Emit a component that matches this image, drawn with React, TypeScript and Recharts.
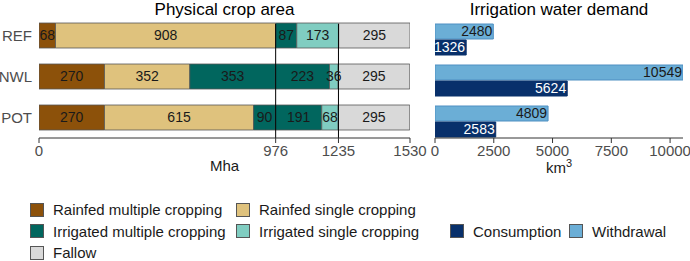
import { BarChart, Bar, XAxis, YAxis, LabelList, ReferenceLine, Label } from 'recharts';

const scenarios = ['REF', 'NWL', 'POT'];

// physical crop area, Mha
const rainfedMultiple = [68, 270, 270];
const rainfedSingle = [908, 352, 615];
const irrigatedMultipleA = [87, 353, 90];
const irrigatedMultipleB = [0, 223, 191];
const irrigatedSingle = [173, 36, 68];
const fallow = [295, 295, 295];

// irrigation water demand, km3
const withdrawal = [2480, 10549, 4809];
const consumption = [1326, 5624, 2583];

const areaTicks = [0, 976, 1235, 1530];
const areaMarks = [976, 1235];
const waterTicks = [0, 2500, 5000, 7500, 10000];

const AREA_SERIES = [
  { key: 'rm', name: 'Rainfed multiple cropping', color: '#8c510a', legend: true },
  { key: 'rs', name: 'Rainfed single cropping', color: '#dfc27d', legend: true },
  { key: 'imA', name: 'Irrigated multiple cropping', color: '#01665e', legend: true },
  { key: 'imB', name: 'Irrigated multiple cropping', color: '#01665e', legend: false },
  { key: 'is', name: 'Irrigated single cropping', color: '#80cdc1', legend: true },
  { key: 'fa', name: 'Fallow', color: '#d9d9d9', legend: true },
];

const WATER_SERIES = [
  { key: 'withdrawal', name: 'Withdrawal', color: '#6baed6', stroke: '#4f8fc2', text: '#1a1a1a' },
  { key: 'consumption', name: 'Consumption', color: '#08306b', stroke: '#08306b', text: '#ffffff' },
];

const areaData = scenarios.map((scenario, i) => ({
  scenario,
  rm: rainfedMultiple[i],
  rs: rainfedSingle[i],
  imA: irrigatedMultipleA[i],
  imB: irrigatedMultipleB[i],
  is: irrigatedSingle[i],
  fa: fallow[i],
}));

const waterData = scenarios.map((scenario, i) => ({
  scenario,
  withdrawal: withdrawal[i],
  consumption: consumption[i],
}));

const FONT = "'Liberation Sans', Arial, sans-serif";
const TICK = { fill: '#4d4d4d', fontSize: 15 };

function hideZero(v: any) {
  return v === 0 ? '' : v;
}

function KmLabel(props: any) {
  const vb = props.viewBox;
  return (
    <text x={vb.x + vb.width / 2} y={vb.y + vb.height - 2} textAnchor="middle" fill="#1a1a1a" fontSize={15}>
      km<tspan dy={-6} fontSize={11}>3</tspan>
    </text>
  );
}

function Swatch({ x, y, color, label }: { x: number; y: number; color: string; label: string }) {
  return (
    <div style={{ position: 'absolute', left: x, top: y, display: 'flex', alignItems: 'center', height: 17 }}>
      <div style={{ width: 14, height: 14, boxSizing: 'border-box', background: color, border: '1px solid #555' }} />
      <span style={{ marginLeft: 9, fontSize: 15, lineHeight: '17px', color: '#1a1a1a', whiteSpace: 'nowrap' }}>{label}</span>
    </div>
  );
}

export default function App() {
  const areaLegend = AREA_SERIES.filter((s) => s.legend);
  const legendPos = [
    { x: 30, y: 201 },
    { x: 236, y: 201 },
    { x: 30, y: 222.5 },
    { x: 236, y: 222.5 },
    { x: 30, y: 244 },
  ];
  const waterLegend = [WATER_SERIES[1], WATER_SERIES[0]];
  const waterPos = [
    { x: 450, y: 222.5 },
    { x: 569, y: 222.5 },
  ];

  return (
    <div style={{ position: 'absolute', left: 0, top: 0, width: 690, height: 261, fontFamily: FONT, background: '#fff', overflow: 'hidden' }}>
      <div style={{ position: 'absolute', left: 39, width: 371, top: 1, textAlign: 'center', fontSize: 17, lineHeight: '17px', color: '#000' }}>
        Physical crop area
      </div>
      <div style={{ position: 'absolute', left: 435, width: 248, top: 1, textAlign: 'center', fontSize: 17, lineHeight: '17px', color: '#000' }}>
        Irrigation water demand
      </div>

      <div style={{ position: 'absolute', left: 0, top: 0 }}>
        <BarChart layout="vertical" width={430} height={175} data={areaData} margin={{ top: 24, right: 20, bottom: 0, left: 0 }}>
          <XAxis
            type="number"
            domain={[0, 1530]}
            ticks={areaTicks}
            allowDataOverflow
            height={37}
            tick={TICK}
            tickSize={5}
            tickMargin={2}
            stroke="#333"
          >
            <Label value="Mha" position="insideBottom" offset={4} fill="#1a1a1a" fontSize={15} />
          </XAxis>
          <YAxis
            type="category"
            dataKey="scenario"
            width={39}
            axisLine={false}
            tickLine={false}
            tickSize={0}
            tickMargin={7}
            tick={TICK}
            padding={{ top: -9, bottom: 0 }}
          />
          {AREA_SERIES.map((s) => (
            <Bar key={s.key} dataKey={s.key} name={s.name} stackId="area" fill={s.color} stroke="#555" strokeWidth={0.8} barSize={25} isAnimationActive={false}>
              <LabelList dataKey={s.key} position="center" fill="#1a1a1a" fontSize={14} formatter={hideZero} />
            </Bar>
          ))}
          {areaMarks.map((m) => (
            <ReferenceLine key={m} x={m} stroke="#000" strokeWidth={1} />
          ))}
        </BarChart>
      </div>

      <div style={{ position: 'absolute', left: 420, top: 0 }}>
        <BarChart layout="vertical" width={270} height={175} data={waterData} barGap={1} margin={{ top: 24, right: 7, bottom: 0, left: 15 }}>
          <XAxis
            type="number"
            domain={[0, 10549]}
            ticks={waterTicks}
            allowDataOverflow
            height={37}
            tick={TICK}
            tickSize={5}
            tickMargin={2}
            stroke="#333"
          >
            <Label content={<KmLabel />} />
          </XAxis>
          <YAxis type="category" dataKey="scenario" hide padding={{ top: -5, bottom: -4 }} />
          {WATER_SERIES.map((s) => (
            <Bar key={s.key} dataKey={s.key} name={s.name} fill={s.color} stroke={s.stroke} strokeWidth={1} barSize={15} isAnimationActive={false}>
              <LabelList dataKey={s.key} position="insideRight" offset={1} fill={s.text} fontSize={14} />
            </Bar>
          ))}
        </BarChart>
      </div>

      {areaLegend.map((s, i) => (
        <Swatch key={s.key} x={legendPos[i].x} y={legendPos[i].y} color={s.color} label={s.name} />
      ))}
      {waterLegend.map((s, i) => (
        <Swatch key={s.key} x={waterPos[i].x} y={waterPos[i].y} color={s.color} label={s.name} />
      ))}
    </div>
  );
}
